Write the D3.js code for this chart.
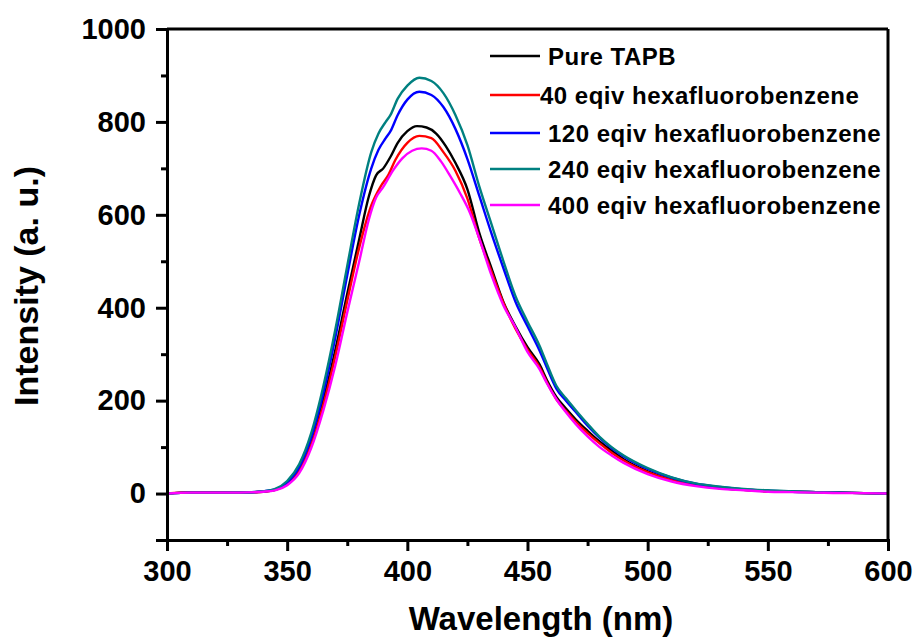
<!DOCTYPE html>
<html>
<head>
<meta charset="utf-8">
<script src="https://cdn.jsdelivr.net/npm/d3@7"></script>
<style>
  html, body { margin: 0; padding: 0; background: #fff; }
  svg { display: block; }
  text { font-family: "Liberation Sans", Arial, sans-serif; font-weight: bold; fill: #000; }
</style>
</head>
<body>
<svg id="chart" width="921" height="639"></svg>
<script>
// ---------- data ----------
const seriesNames = ["Pure TAPB", "40 eqiv hexafluorobenzene", "120 eqiv hexafluorobenzene", "240 eqiv hexafluorobenzene", "400 eqiv hexafluorobenzene"];
const seriesColors = ["#000000", "#ff0000", "#0000ff", "#008080", "#ff00ff"];

const wlPure  = [300,310,320,330,340,345,350,355,360,365,370,375,380,384,387,390,393,396,400,404,408,412,416,420,425,430,435,440,445,450,455,458,462,466,470,475,480,485,490,500,510,520,530,540,550,560,570,580,590,600];
const intPure = [0,2,2,2,4,8,22,52,112,200,308,430,548,640,685,700,725,755,780,791,788,775,748,712,655,560,485,412,360,315,278,245,208,183,160,135,112,92,74,48,30,19,12,8,5,4,3,2,1,0];

const wl40  = [300,310,320,330,340,345,350,355,360,365,370,375,380,385,389,392,395,400,405,410,415,420,425,430,435,440,445,450,455,458,462,466,470,475,480,485,490,500,510,520,530,540,550,560,570,580,590,600];
const int40 = [0,3,3,2,4,8,20,48,105,190,295,415,530,620,662,685,718,755,770,765,735,695,635,548,478,410,355,310,272,240,203,178,155,130,108,88,71,46,29,18,12,8,5,4,3,2,1,0];

const wl120  = [300,310,320,330,340,345,350,355,360,365,370,375,380,385,388,391,393,396,400,405,410,415,420,425,430,435,440,445,450,455,458,462,466,470,475,480,485,490,500,510,520,530,540,550,560,570,580,590,600];
const int120 = [0,2,2,2,5,9,24,57,120,215,335,470,600,700,740,765,780,815,848,865,858,832,785,720,640,560,485,413,360,308,272,226,200,176,146,120,98,80,53,34,21,14,9,6,4,3,2,1,0];

const wl240  = [300,310,320,330,340,345,350,355,360,365,370,375,380,385,388,391,393,396,400,405,410,415,420,425,430,435,440,445,450,455,458,462,466,470,475,480,485,490,500,510,520,530,540,550,560,570,580,590,600];
const int240 = [0,2,2,2,5,10,27,63,130,230,352,490,625,735,775,800,815,850,878,895,888,862,815,750,660,580,500,425,370,318,280,232,205,180,150,122,100,82,55,35,22,15,10,7,5,3,2,1,0];

const wl400  = [300,310,320,330,340,345,350,355,360,365,370,375,380,384,387,390,394,398,402,406,410,414,418,422,426,430,435,440,445,450,455,458,462,466,470,475,480,485,490,500,510,520,530,540,550,560,570,580,590,600];
const int400 = [0,2,2,2,4,7,18,44,98,178,275,390,500,590,637,660,695,722,738,743,738,715,682,646,605,548,470,405,358,305,268,238,203,175,150,123,100,82,66,42,26,16,10,7,4,3,2,1,1,0];

const xTicks = [300,350,400,450,500,550,600];
const yTicks = [0,200,400,600,800,1000];
const xMinor = [325,375,425,475,525,575];
const yMinor = [-100,100,300,500,700,900];

const series = [
  {name: seriesNames[0], color: seriesColors[0], wl: wlPure, val: intPure},
  {name: seriesNames[1], color: seriesColors[1], wl: wl40,  val: int40},
  {name: seriesNames[2], color: seriesColors[2], wl: wl120, val: int120},
  {name: seriesNames[3], color: seriesColors[3], wl: wl240, val: int240},
  {name: seriesNames[4], color: seriesColors[4], wl: wl400, val: int400}
];

// ---------- layout ----------
const L = 167, R = 888, T = 29, B = 540;
const svg = d3.select("#chart");
const x = d3.scaleLinear().domain([300, 600]).range([L, R]);
const y = d3.scaleLinear().domain([-100, 1000]).range([B, T]);

// curves
const line = d3.line().x(d => x(d[0])).y(d => y(d[1])).curve(d3.curveMonotoneX);
const plot = svg.append("g");
series.forEach(s => {
  plot.append("path")
    .datum(s.wl.map((w, i) => [w, s.val[i]]))
    .attr("fill", "none")
    .attr("stroke", s.color)
    .attr("stroke-width", 2.4)
    .attr("stroke-linejoin", "round")
    .attr("d", line);
});

// frame (top & right)
svg.append("line").attr("x1", L).attr("x2", R).attr("y1", T).attr("y2", T)
  .attr("stroke", "#000").attr("stroke-width", 3);
svg.append("line").attr("x1", R).attr("x2", R).attr("y1", T).attr("y2", B)
  .attr("stroke", "#000").attr("stroke-width", 3);

// axes
const xAxis = svg.append("g").attr("transform", `translate(0,${B})`)
  .call(d3.axisBottom(x).tickValues(xTicks).tickSize(11).tickPadding(9).tickFormat(d3.format("d")));
const xMinorAxis = svg.append("g").attr("transform", `translate(0,${B})`)
  .call(d3.axisBottom(x).tickValues(xMinor).tickSize(6).tickFormat(""));
const yAxis = svg.append("g").attr("transform", `translate(${L},0)`)
  .call(d3.axisLeft(y).tickValues(yTicks).tickSize(11).tickPadding(10).tickFormat(d3.format("d")));
const yMinorAxis = svg.append("g").attr("transform", `translate(${L},0)`)
  .call(d3.axisLeft(y).tickValues(yMinor).tickSize(6).tickFormat(""));

[xAxis, xMinorAxis, yAxis, yMinorAxis].forEach(g => {
  g.select(".domain").attr("stroke", "#000").attr("stroke-width", 3);
  g.selectAll(".tick line").attr("stroke", "#000").attr("stroke-width", 3);
});
xMinorAxis.select(".domain").remove();
yMinorAxis.select(".domain").remove();
[xAxis, yAxis].forEach(g => {
  g.selectAll(".tick text")
    .style("font-family", '"Liberation Sans", Arial, sans-serif')
    .style("font-weight", "bold")
    .style("font-size", "29px")
    .attr("fill", "#000");
});

// axis titles
svg.append("text")
  .attr("x", 541).attr("y", 630)
  .attr("text-anchor", "middle")
  .style("font-size", "33px")
  .text("Wavelength (nm)");
svg.append("text")
  .attr("transform", "translate(38,286) rotate(-90)")
  .attr("text-anchor", "middle")
  .style("font-size", "34px")
  .text("Intensity (a. u.)");

// legend
const legRows = [56, 95, 133, 169, 205];
const legTextX = [548, 540, 548, 548, 548];
series.forEach((s, i) => {
  svg.append("line")
    .attr("x1", 490).attr("x2", 540)
    .attr("y1", legRows[i]).attr("y2", legRows[i])
    .attr("stroke", s.color).attr("stroke-width", 2.4);
  svg.append("text")
    .attr("x", legTextX[i]).attr("y", legRows[i] + 9)
    .style("font-size", "24px")
    .style("letter-spacing", "0.5px")
    .text(s.name);
});
</script>
</body>
</html>
